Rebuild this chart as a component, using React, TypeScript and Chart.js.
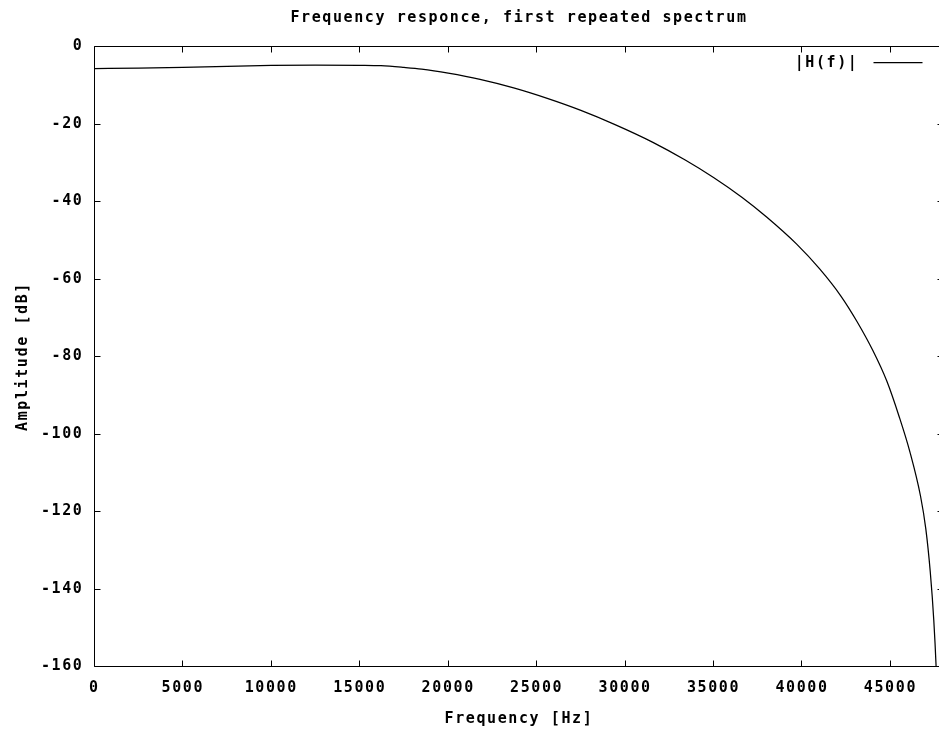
import React, { useEffect, useRef } from "react";
import { Chart, registerables } from "chart.js";

Chart.register(...registerables);

// ---- data ----
const FREQ_HZ = [
  0, 2500, 5000, 7500, 10000, 12500, 15000, 16200, 17500, 18500, 20000, 21800,
  23700, 25600, 27500, 29400, 31600, 33400, 35000, 36600, 38000, 39700, 41000,
  42200, 43100, 44000, 44800, 45500, 46100, 46700, 47000, 47250, 47450, 47600,
  47800,
];
const AMPLITUDE_DB = [
  -5.7, -5.6, -5.4, -5.1, -4.9, -4.8, -4.85, -4.95, -5.4, -5.85, -6.9, -8.5,
  -10.7, -13.4, -16.5, -20.1, -24.8, -29.3, -33.8, -38.9, -44.0, -51.0, -57.4,
  -64.4, -70.9, -78.4, -86.4, -95.6, -104.6, -116.0, -124.5, -135.5, -148.0,
  -162.0, -190.0,
];
const X_TICKS = [0, 5000, 10000, 15000, 20000, 25000, 30000, 35000, 40000, 45000];
const Y_TICKS = [0, -20, -40, -60, -80, -100, -120, -140, -160];
const X_MIN = 0;
const X_MAX = 48000;
const Y_MIN = -160;
const Y_MAX = 0;

const TITLE = "Frequency responce, first repeated spectrum";
const X_TITLE = "Frequency [Hz]";
const Y_TITLE = "Amplitude [dB]";
const SERIES_LABEL = "|H(f)|";

// ---- styling ----
const FONT_FAMILY = "'DejaVu Sans Mono', 'Liberation Mono', monospace";
const FONT_SIZE = 15;
const SPACING = "1.6px";
const FONT = `bold ${FONT_SIZE}px ${FONT_FAMILY}`;
const TICK_LEN = 6;

const gnuplotFrame = {
  id: "gnuplotFrame",
  beforeLayout(chart: any) {
    chart.ctx.letterSpacing = SPACING;
  },
  beforeDraw(chart: any) {
    chart.ctx.letterSpacing = SPACING;
  },
  afterDatasetsDraw(chart: any) {
    const { ctx, chartArea: a, scales } = chart;
    const xs = scales.x;
    const ys = scales.y;
    const L = Math.floor(a.left) + 0.5;
    const R = Math.floor(a.right) + 0.5;
    const T = Math.floor(a.top) + 0.5;
    const B = Math.floor(a.bottom) + 0.5;

    ctx.save();
    ctx.letterSpacing = SPACING;
    ctx.strokeStyle = "#000";
    ctx.lineWidth = 1;

    // frame
    ctx.beginPath();
    ctx.rect(L, T, R - L, B - T);
    ctx.stroke();

    // inward ticks on all four sides (mirrored)
    ctx.beginPath();
    for (const t of xs.ticks) {
      const px = Math.floor(xs.getPixelForValue(t.value)) + 0.5;
      ctx.moveTo(px, B);
      ctx.lineTo(px, B - TICK_LEN);
      ctx.moveTo(px, T);
      ctx.lineTo(px, T + TICK_LEN);
    }
    for (const t of ys.ticks) {
      const py = Math.floor(ys.getPixelForValue(t.value)) + 0.5;
      ctx.moveTo(L, py);
      ctx.lineTo(L + TICK_LEN, py);
      ctx.moveTo(R, py);
      ctx.lineTo(R - TICK_LEN, py);
    }
    ctx.stroke();

    ctx.fillStyle = "#000";
    ctx.font = FONT;

    // title
    const cx = (a.left + a.right) / 2;
    ctx.textAlign = "center";
    ctx.textBaseline = "alphabetic";
    ctx.fillText(TITLE, cx, 21.5);

    // x axis title
    ctx.fillText(X_TITLE, cx, 722.5);

    // y axis title (rotated)
    ctx.save();
    ctx.translate(26.5, (a.top + a.bottom) / 2);
    ctx.rotate(-Math.PI / 2);
    ctx.textAlign = "center";
    ctx.textBaseline = "alphabetic";
    ctx.fillText(Y_TITLE, 0, 0);
    ctx.restore();

    // legend: label then line sample
    const ly = Math.floor(a.top + 16) + 0.5;
    ctx.textAlign = "right";
    ctx.textBaseline = "middle";
    ctx.fillText(SERIES_LABEL, a.right - 85, ly + 1);
    ctx.beginPath();
    ctx.lineWidth = 1.25;
    ctx.moveTo(a.right - 70, ly);
    ctx.lineTo(a.right - 21, ly);
    ctx.stroke();

    ctx.restore();
  },
};

export default function App() {
  const canvasRef = useRef<HTMLCanvasElement | null>(null);

  useEffect(() => {
    const canvas = canvasRef.current;
    if (!canvas) return;
    const chart = new Chart(canvas, {
      type: "line",
      data: {
        datasets: [
          {
            label: SERIES_LABEL,
            data: FREQ_HZ.map((f, i) => ({ x: f, y: AMPLITUDE_DB[i] })),
            borderColor: "#000",
            borderWidth: 1.25,
            pointRadius: 0,
            fill: false,
            cubicInterpolationMode: "monotone",
          },
        ],
      },
      options: {
        animation: false,
        responsive: false,
        devicePixelRatio: 1,
        layout: { padding: { top: 46.5, right: 2.5, bottom: 0, left: 0 } },
        plugins: {
          legend: { display: false },
          title: { display: false },
          tooltip: { enabled: false },
        },
        scales: {
          x: {
            type: "linear",
            min: X_MIN,
            max: X_MAX,
            grid: { display: false, drawTicks: false },
            border: { display: false },
            afterBuildTicks: (s: any) => {
              s.ticks = X_TICKS.map((v) => ({ value: v }));
            },
            afterFit: (s: any) => {
              s.height = 62.5;
            },
            ticks: {
              padding: 13,
              color: "#000",
              maxRotation: 0,
              autoSkip: false,
              font: { family: FONT_FAMILY, size: FONT_SIZE, weight: "bold" },
              callback: (v: any) => String(v),
            },
          },
          y: {
            type: "linear",
            min: Y_MIN,
            max: Y_MAX,
            grid: { display: false, drawTicks: false },
            border: { display: false },
            afterBuildTicks: (s: any) => {
              s.ticks = Y_TICKS.map((v) => ({ value: v }));
            },
            afterFit: (s: any) => {
              s.width = 94.4;
            },
            ticks: {
              padding: 11,
              color: "#000",
              autoSkip: false,
              font: { family: FONT_FAMILY, size: FONT_SIZE, weight: "bold" },
              callback: (v: any) => String(v),
            },
          },
        },
      },
      plugins: [gnuplotFrame],
    });
    return () => chart.destroy();
  }, []);

  return (
    <div
      style={{
        position: "fixed",
        left: 0,
        top: 0,
        width: 939,
        height: 729,
        overflow: "hidden",
        background: "#fff",
      }}
    >
      <canvas ref={canvasRef} width={946} height={729} style={{ display: "block" }} />
    </div>
  );
}
